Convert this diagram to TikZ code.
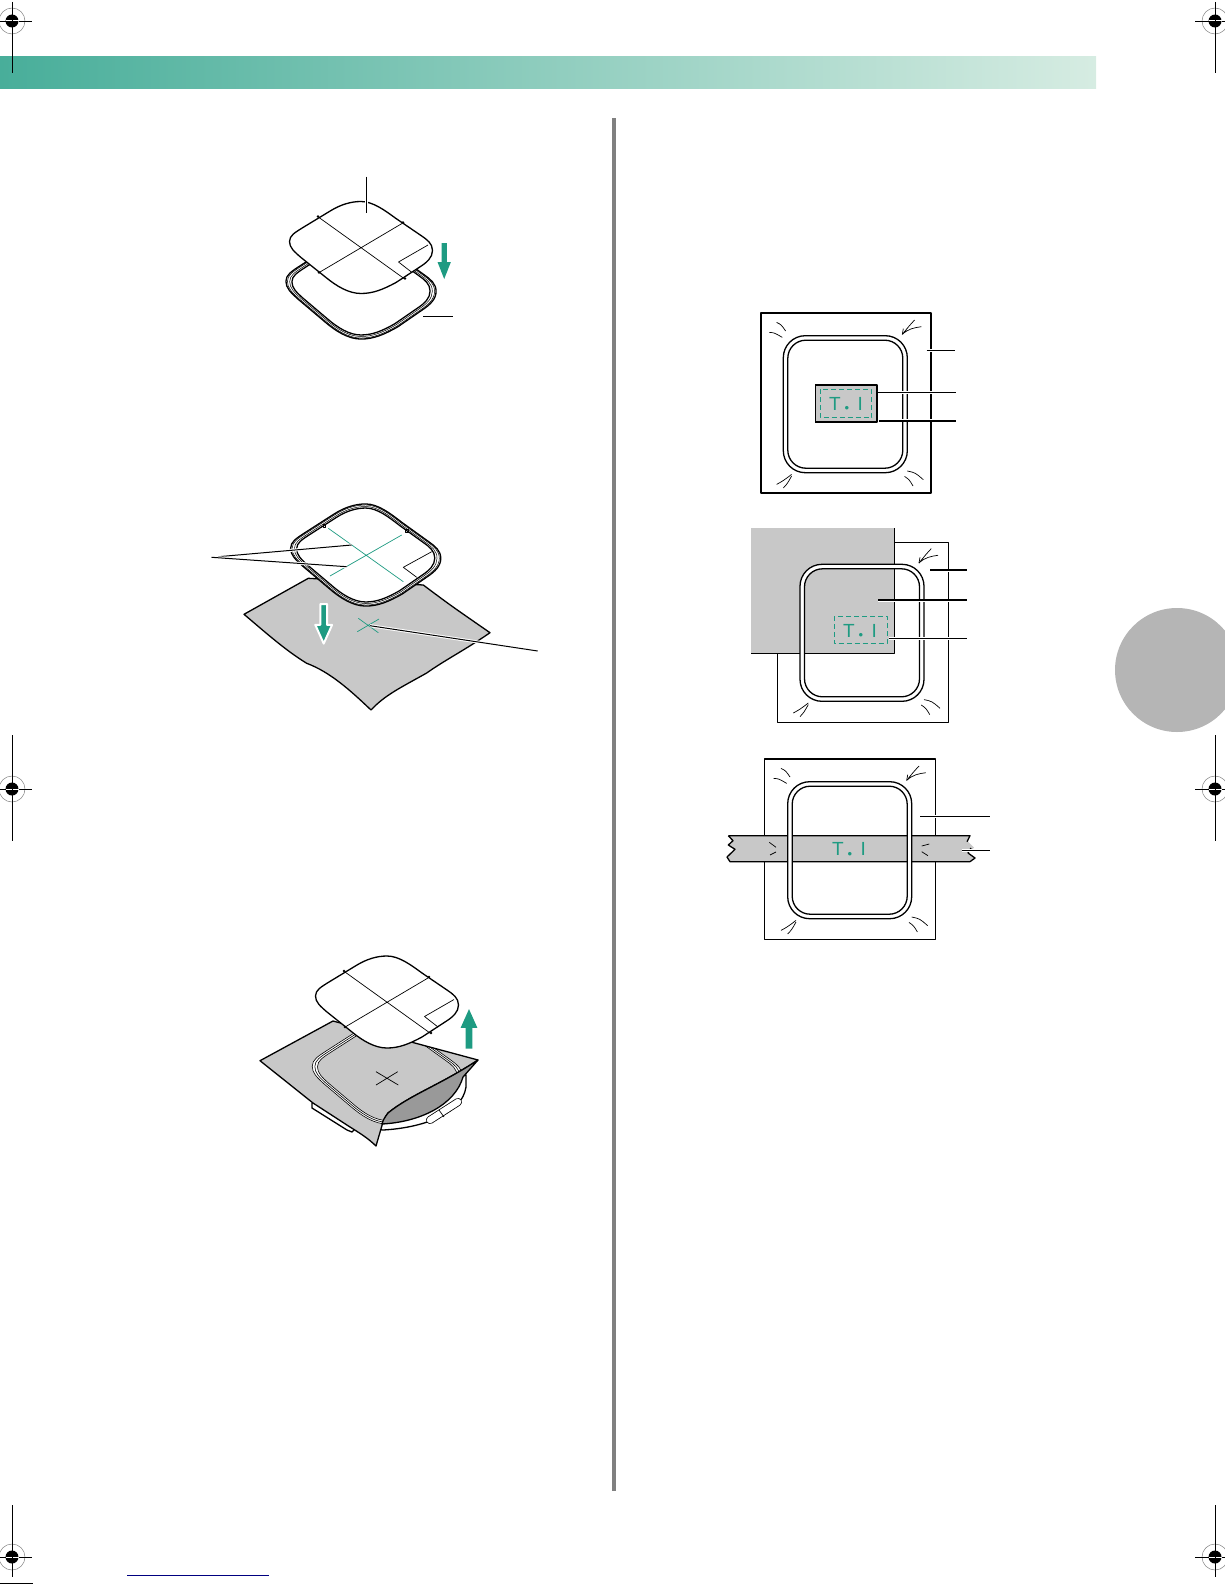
\documentclass[tikz,border=0pt]{standalone}
\usepackage{fontspec}
\setmainfont{Liberation Sans}

\definecolor{hoopgreen}{RGB}{30,155,130}
\definecolor{fabricgray}{RGB}{200,200,200}

\newcommand{\sheetpath}{(0,-46) .. controls (-10,-46) and (-20,-43) .. (-30,-37)
  -- (-58,-20) .. controls (-66,-15) and (-71.5,-12) .. (-71.5,-6)
  .. controls (-71.5,0) and (-67,4) .. (-60,10)
  -- (-35,30) .. controls (-24,39) and (-12,46) .. (0,46)
  .. controls (12,46) and (22,42) .. (35,35)
  -- (58,20) .. controls (66,15) and (71.5,10) .. (71.5,3)
  .. controls (71.5,-4) and (66,-8) .. (60,-12)
  -- (35,-29) .. controls (24,-37) and (12,-46) .. (0,-46) -- cycle}
\newcommand{\fabricpath}{(260,1060.7) -- (333,1021) -- (478,1060)
  .. controls (440,1085) and (410,1095) .. (388,1113) .. controls (385,1117) and (384,1120) .. (383,1122)
  -- (376,1146) .. controls (368,1138) and (358,1132) .. (350,1127) -- (313,1103) -- cycle}
\newcommand{\stitchword}{T\hspace{4pt}{\fontsize{13}{13}\selectfont\raisebox{-2.8pt}{•}}\hspace{8.5pt}I}

\tikzset{
  outline/.style={line width=1.3pt},
  thinline/.style={line width=.7pt},
  leader/.style={line width=1pt, preaction={draw=white, line width=3pt}},
  cropline/.style={line width=.9pt},
  dashbox/.style={hoopgreen, line width=.7pt, dash pattern=on 5pt off 3pt},
  stitchtext/.style={text=hoopgreen, font=\fontsize{19}{19}\selectfont, inner sep=0pt},
  pics/regmark/.style={code={
    \draw[gray, line width=.5pt] (0,0) circle (13);
    \fill[black] (0,0) circle (6.5);
    \draw[white, line width=1pt] (-6.5,0) -- (6.5,0) (0,-6.5) -- (0,6.5);
    \draw[cropline] (-20,0) -- (-6.5,0) (6.5,0) -- (20,0);
  }},
  pics/sheetmarks/.style={code={
    \draw[thinline, #1] (-42,-30) -- (43,31) (-41,24.5) -- (41,-24);
    \draw[thinline] (67,-2.5) -- (37.5,14.5) -- (51,25);
    \fill[black] (-43,-31) circle (1.4) (44,31) circle (1.4) (-42,25) circle (1.4) (42,-25) circle (1.4);
  }},
  pics/template/.style={code={
    \draw[outline, fill=white] \sheetpath;
    \pic {sheetmarks=black};
  }},
  pics/hoopoval/.style={code={
    \begin{scope}[xscale=1.05, yscale=1.11]
      \draw[outline, fill=white] \sheetpath;
      \begin{scope}[scale=.98] \draw[line width=.5pt] \sheetpath; \end{scope}
      \begin{scope}[scale=.95] \draw[line width=.5pt] \sheetpath; \end{scope}
      \begin{scope}[scale=.92] \draw[outline] \sheetpath; \end{scope}
    \end{scope}
  }},
  pics/hoopring/.style={code={
    \path[fill=white, even odd rule, rounded corners=22pt] (0,0) rectangle (124,137)
      [rounded corners=18pt] (4.5,4.5) rectangle (119.5,132.5);
    \draw[outline, rounded corners=22pt] (0,0) rectangle (124,137);
    \draw[outline, rounded corners=18pt] (4.5,4.5) rectangle (119.5,132.5);
  }},
  pics/pullmarks/.style={code={
    % top left
    \draw[thinline] (-14,-3.3) .. controls (-9,-3) .. (-1,1.7);
    \draw[thinline] (-6.7,-13.3) .. controls (-2,-11) .. (2.3,-4.7);
    % top right
    \draw[thinline, shift={(124,0)}] (7.3,-15.7) .. controls (2,-10) .. (-5,-1.3) .. controls (1,-7) and (7,-8) .. (14,-9);
    \draw[thinline, shift={(124,0)}] (-5,-1.3) -- (-4,-7);
    % bottom left
    \draw[thinline, shift={(0,137)}] (-6.7,11.7) .. controls (0,8) .. (8.3,1.7);
    \draw[thinline, shift={(0,137)}] (0,15.3) .. controls (4,11) .. (8.3,3.3);
    % bottom right
    \draw[thinline, shift={(124,137)}] (-2.7,3.7) .. controls (2,7) .. (5.7,13.3);
    \draw[thinline, shift={(124,137)}] (0,-1.7) .. controls (8,0) .. (16,7);
  }},
  pics/greenarrow/.style={code={
    \fill[hoopgreen, #1] (-2.7,0) -- (2.7,0) -- (2.7,19) -- (6.7,19) -- (0,36) -- (-6.7,19) -- (-2.7,19) -- cycle;
  }},
}

\begin{document}
\begin{tikzpicture}[x=1pt, y=-1pt, line cap=butt, line join=round]
  \useasboundingbox (0,0) rectangle (1224,1584);
  % header band
  \shade[left color={rgb,255:red,72;green,174;blue,154}, right color={rgb,255:red,214;green,236;blue,226}] (0,57) rectangle (1096,89);
  % page tab and column rule
  \fill[black!29] (1177,670) circle (62);
  \fill[black!50] (612,118) rectangle (616,1491);
  % crop marks
  \pic at (12,21) {regmark};
  \draw[cropline] (12,2) -- (12,73);
  \pic at (1215,21) {regmark};
  \draw[cropline] (1215,2) -- (1215,73);
  \pic at (12,789) {regmark};
  \draw[cropline] (12,735) -- (12,841);
  \pic at (1215,789) {regmark};
  \draw[cropline] (1215,735) -- (1215,841);
  \pic at (12,1557) {regmark};
  \draw[cropline] (12,1505) -- (12,1577);
  \pic at (1215,1557) {regmark};
  \draw[cropline] (1215,1505) -- (1215,1577);
  \draw[cropline] (0,1583) -- (33,1583);
  \draw[blue!50!black, line width=.9pt] (127,1575) -- (269,1575);

  % template over hoop
  \pic at (361,288) {hoopoval};
  \pic at (361,247.5) {template};
  \pic at (444.2,243) {greenarrow};
  \draw[leader] (366.7,176.7) -- (366.7,213.3);
  \draw[leader] (423,316.7) -- (452.7,316.7);

  % hoop over fabric
  \draw[outline, fill=fabricgray] (244,614.3) -- (308.3,578.3) -- (423.3,585) .. controls (450,605) .. (490,632.7)
    .. controls (465,650) and (445,660) .. (426.7,673) .. controls (400,688) and (385,695) .. (371,710)
    .. controls (350,690) and (330,672) .. (306.7,663.3) .. controls (285,650) and (265,632) .. (244,614.3) -- cycle;
  \pic at (365.7,555) {hoopoval};
  \draw[thinline, hoopgreen] (328.3,528.3) -- (403.3,581.7) (330,576) -- (401.7,535);
  \draw[thinline] (431.7,551.7) -- (403.3,567.3) -- (416.7,577.3);
  \draw[thinline] (323,524) rectangle (325,527) (405,529) rectangle (408,532);
  \draw[leader] (211.7,557.3) -- (351.7,545);
  \draw[leader] (211.7,557.3) -- (346.7,566.7);
  \pic[xscale=1.25, yscale=1.1] at (323.7,604) {greenarrow={draw=white, line width=2pt}};
  \draw[thinline, hoopgreen] (358.3,618.3) -- (378.3,632.7) (357.3,631.7) -- (379,619);
  \draw[leader] (370,625.7) -- (537.7,651);

  % removing the template
  \draw[outline, fill=white] (312,1103) -- (312,1108) -- (347,1130) -- (352,1132) -- (357,1127) -- (383,1130)
    .. controls (420,1128) and (462,1115) .. (466,1087) -- (466,1075) -- cycle;
  \begin{scope}
    \clip \fabricpath;
    \fill[fabricgray] \fabricpath;
    \begin{scope}[shift={(387.3,1073)}, xscale=1.05, yscale=1.11]
      \draw[line width=.6pt, fill=white] \sheetpath;
      \begin{scope}[scale=.965] \draw[line width=.6pt] \sheetpath; \end{scope}
      \begin{scope}[scale=.93] \draw[line width=.6pt, fill=fabricgray] \sheetpath; \end{scope}
    \end{scope}
  \end{scope}
  \draw[outline] \fabricpath;
  \draw[outline, fill=black!40] (478,1060) .. controls (440,1085) and (410,1095) .. (388,1113)
    .. controls (385,1117) and (383,1120) .. (382,1124) .. controls (420,1122) and (455,1105) .. (463,1077) -- cycle;
  \draw[black, line width=8pt, line cap=round] (430,1120) -- (458,1102);
  \draw[white, line width=6.4pt, line cap=round] (430,1120) -- (458,1102);
  \draw[thinline] (439,1110) -- (444,1117);
  \draw[thinline] (376,1071.7) -- (398.3,1085) (376,1085) -- (397.7,1071.7);
  \pic at (387,1002) {template};
  \pic[xscale=1.25, yscale=-1.1] at (469,1048.7) {greenarrow};

  % first frame, small patch
  \draw[line width=1.7pt] (760.7,312.7) rectangle (931,493.3);
  \pic at (783.3,335.7) {pullmarks};
  \pic at (783.3,335.7) {hoopring};
  \draw[thinline, fill=fabricgray] (815,385) rectangle (876.7,421.7);
  \draw[line width=1.6pt] (815,385) -- (876.7,385) -- (876.7,421.7) -- (815,421.7);
  \draw[dashbox] (820,389.3) rectangle (871.7,417.7);
  \node[stitchtext] (labelA) at (846,405) {\stitchword};
  \draw[leader] (926.7,350) -- (955,350);
  \draw[leader] (877.7,392) -- (956,392);
  \draw[leader, line width=1.6pt] (879.3,420.7) -- (956,420.7);

  % second frame, large sheet
  \draw[outline] (777.7,542.3) rectangle (948.3,722.7);
  \pic at (800,564.3) {pullmarks};
  \fill[fabricgray] (751,528.3) rectangle (894.3,653.3);
  \draw[outline] (751,653.3) -- (894.3,653.3) -- (894.3,528.3);
  \pic at (800,564.3) {hoopring};
  \draw[dashbox] (834.3,616) rectangle (887,643.7);
  \node[stitchtext] (labelB) at (860,632) {\stitchword};
  \draw[leader, line width=1.3pt] (930,570) -- (966.7,570);
  \draw[leader, line width=1.3pt] (878.3,600) -- (966.7,600);
  \draw[leader] (889,638) -- (966.7,638);

  % third frame, narrow strip
  \draw[line width=1.5pt] (764.3,759) rectangle (935.7,939.3);
  \pic at (787.7,781.7) {pullmarks};
  \fill[fabricgray] (728.3,835.7) -- (970,835.7) -- (968,841.7) -- (974,847.7) -- (968,853) -- (975,858) -- (970,861.7)
    -- (730,861.7) -- (727,857) -- (735,849.3) -- (728.3,845) -- (733,840.7) -- cycle;
  \draw[outline] (728.3,835.7) -- (970,835.7) -- (967,841.7) (970,861.7) -- (730,861.7) -- (727,857) -- (735,849.3) -- (728.3,845) -- (733,840.7) -- (728.3,835.7);
  \draw[outline] (971,848) -- (968,853) -- (975,858) -- (970,861.7);
  \draw[thinline] (769.3,842.3) -- (776,847.3) (776,852) -- (770,855);
  \draw[thinline] (921.7,846) -- (929.3,844) (921.7,851.7) -- (928,855.7);
  \pic at (787.7,781.7) {hoopring};
  \node[stitchtext] (labelC) at (849,850.5) {\stitchword};
  \draw[leader] (920,816) -- (990,816);
  \draw[leader] (961.7,850) -- (990,850);
\end{tikzpicture}
\end{document}
